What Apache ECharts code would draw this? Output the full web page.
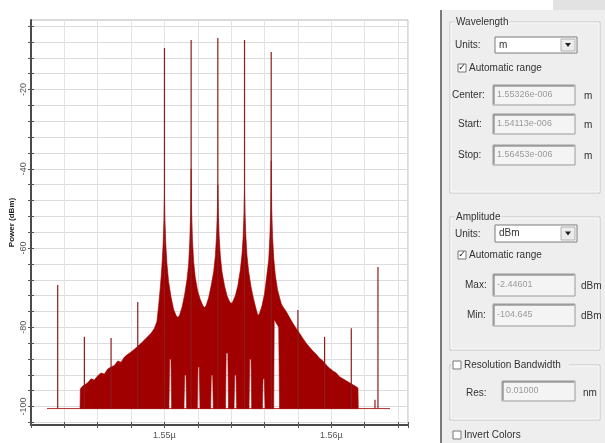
<!DOCTYPE html>
<html><head><meta charset="utf-8">
<script src="https://cdn.jsdelivr.net/npm/echarts@6/dist/echarts.min.js"></script>
<style>html,body{margin:0;padding:0;background:#fff}#c{width:605px;height:443px}</style>
</head><body><div id="c"></div>
<script>
// ---- data (wavelength in nm, power in dBm) ----
const xTickLabels = {1550: '1.55\u00b5', 1560: '1.56\u00b5'};
const yLabelValues = [-100, -80, -60, -40, -20];
const yTickValues = [-104,-100,-96,-92,-88,-84,-80,-76,-72,-68,-64,-60,-56,-52,-48,-44,-40,-36,-32,-28,-24,-20,-16,-12,-8,-4];
const FLOOR = -100.5;
// upper envelope of the dense spectrum
const envWl = [1544.94,1544.96,1545.1,1545.4,1545.6,1545.8,1546.0,1546.2,1546.4,1546.6,1546.8,1547.0,1547.2,1547.4,1547.6,1547.8,1548.0,1548.2,1548.4,1548.6,1548.8,1549.0,1549.2,1549.4,
 1549.55,1549.65,1549.75,1549.85,1549.92,1549.97,1550.0,1550.03,1550.08,1550.15,1550.25,1550.4,1550.55,1550.7,1550.8,
 1550.9,1551.05,1551.2,1551.35,1551.45,1551.52,1551.57,1551.6,1551.63,1551.68,1551.75,1551.85,1552.0,1552.15,1552.3,1552.4,
 1552.5,1552.65,1552.8,1552.95,1553.05,1553.12,1553.17,1553.2,1553.23,1553.28,1553.35,1553.45,1553.6,1553.75,1553.9,1554.0,
 1554.1,1554.25,1554.4,1554.55,1554.65,1554.72,1554.77,1554.8,1554.83,1554.88,1554.95,1555.05,1555.2,1555.35,1555.5,1555.6,
 1555.7,1555.85,1556.0,1556.12,1556.25,1556.32,1556.37,1556.4,1556.43,1556.48,1556.55,1556.65,1556.78,1556.9,1557.0,
 1557.1,1557.3,1557.5,1557.7,1557.9,1558.1,1558.3,1558.5,1558.7,1558.9,1559.1,1559.3,1559.5,1559.7,1559.9,1560.1,1560.3,1560.5,1560.7,1560.9,1561.1,1561.3,1561.5,1561.6,1561.62];
const envTop = [-100.5,-95.5,-94.8,-94,-93,-93.3,-92.2,-91.5,-91.8,-90.5,-90,-89.6,-88.5,-88.8,-87.5,-86.8,-86.2,-85.5,-84.8,-84,-83.2,-82.3,-81.5,-80.2,
 -78.5,-74.5,-70,-64.5,-59,-53,-47,-53,-59,-64,-68.5,-72.5,-75.5,-77,-77.5,
 -77,-75,-72,-68,-64,-58,-51,-40,-51,-58,-63.5,-67.5,-71,-73,-74.5,-75,
 -74.5,-72.5,-69.5,-66,-62,-57,-51,-44,-51,-57,-62,-66,-69.5,-72,-73.5,-74,
 -73.5,-72,-69.5,-65.5,-61.5,-57,-51,-45,-51,-57,-62,-66,-70,-73,-75.5,-77,
 -76.5,-74.5,-71.5,-67.5,-63,-57,-50,-38,-50,-57,-62.5,-67,-70.5,-72.5,-74,
 -74.8,-76,-77.5,-79,-80.3,-81.5,-82.8,-84,-85,-86,-86.8,-87.8,-88.5,-89.5,-90.3,-91,-91.5,-92.5,-93,-93.5,-94,-94.5,-95,-95.3,-100.5];
// lower envelope (white notches between the channels)
const botWl = [1544.94,1550.27,1550.31,1550.39,1550.43,1551.17,1551.21,1551.29,1551.33,1551.97,1552.01,1552.09,1552.13,1552.77,1552.81,1552.89,1552.93,1553.66,1553.7,1553.8,1553.84,1554.17,1554.21,1554.29,1554.33,1555.07,1555.11,1555.19,1555.23,1555.87,1555.91,1555.99,1556.03,1556.55,1556.58,1556.85,1556.9,1561.62];
const botVal = [-100.5,-100.5,-88,-88,-100.5,-100.5,-92,-92,-100.5,-100.5,-90,-90,-100.5,-100.5,-92,-92,-100.5,-100.5,-86.5,-86.5,-100.5,-100.5,-92,-92,-100.5,-100.5,-88,-88,-100.5,-100.5,-93,-93,-100.5,-100.5,-78,-80,-100.5,-100.5];
// narrow spectral lines (carriers and FWM products)
const spikeWl = [1543.6,1545.2,1546.8,1548.4,1550.0,1551.6,1553.2,1554.8,1556.4,1558.0,1559.6,1561.2,1562.62,1562.8];
const spikeTop = [-69.3,-82.4,-82.7,-73.6,-9.5,-7.5,-7.0,-7.5,-10.5,-75.6,-82.4,-80.2,-98.3,-64.8];
const floorWl = [1542.96, 1563.52];
const floorVal = [-100.5, -100.5];

// ---- chart ----
const RED = '#a00000';
const chart = echarts.init(document.getElementById('c'), null, {renderer: 'canvas'});
const FONT = 'Liberation Sans';
const PANEL = '#eeeeee';

function panelGraphics() {
  const g = [];
  const txt = (x, y, s, opt) => g.push({type: 'text', x: x, y: y, style: Object.assign({text: s, font: '10px "Liberation Sans"', fill: '#333', verticalAlign: 'middle'}, opt || {})});
  g.push({type: 'rect', shape: {x: 441, y: 10, width: 164, height: 433}, style: {fill: PANEL}});
  g.push({type: 'rect', shape: {x: 553, y: 0, width: 52, height: 10}, style: {fill: '#e2e2e2'}});
  g.push({type: 'line', shape: {x1: 441, y1: 10, x2: 441, y2: 443}, style: {stroke: '#7a7a7a', lineWidth: 2}});
  const group = (x, y, w, h, label) => {
    g.push({type: 'rect', shape: {x: x, y: y, width: w, height: h}, style: {fill: 'none', stroke: '#c4c4c4', lineWidth: 1}});
    g.push({type: 'rect', shape: {x: x + 1, y: y + 1, width: w - 2, height: h - 2}, style: {fill: 'none', stroke: '#fafafa', lineWidth: 1}});
    if (label) txt(x + 5, y, label, {backgroundColor: PANEL, padding: [0, 1]});
  };
  const box = (x, y, w, h, s) => {
    g.push({type: 'rect', shape: {x: x, y: y, width: w, height: h}, style: {fill: '#f4f4f4', stroke: '#9a9a9a', lineWidth: 1}});
    g.push({type: 'line', shape: {x1: x + 1, y1: y + 1, x2: x + w - 1, y2: y + 1}, style: {stroke: '#6e6e6e', lineWidth: 1}});
    g.push({type: 'line', shape: {x1: x + 1, y1: y + 1, x2: x + 1, y2: y + h - 1}, style: {stroke: '#6e6e6e', lineWidth: 1}});
    if (s) txt(x + 4, y + h / 2, s, {font: '9px "Liberation Sans"', fill: '#9a9a9a'});
  };
  const combo = (x, y, w, h, s) => {
    g.push({type: 'rect', shape: {x: x, y: y, width: w, height: h}, style: {fill: '#ffffff', stroke: '#7a7a7a', lineWidth: 1}});
    g.push({type: 'rect', shape: {x: x + w - 16, y: y + 2, width: 14, height: h - 4}, style: {fill: '#ececec', stroke: '#b0b0b0', lineWidth: 1}});
    g.push({type: 'polygon', shape: {points: [[x + w - 12, y + h / 2 - 2], [x + w - 6, y + h / 2 - 2], [x + w - 9, y + h / 2 + 2]]}, style: {fill: '#222'}});
    txt(x + 4, y + h / 2, s);
  };
  const check = (x, y, checked, label) => {
    g.push({type: 'rect', shape: {x: x, y: y - 4, width: 8, height: 8}, style: {fill: '#ffffff', stroke: '#777', lineWidth: 1}});
    if (checked) g.push({type: 'text', x: x + 4, y: y, style: {text: '\u2713', font: 'bold 9px "DejaVu Sans"', fill: '#222', align: 'center', verticalAlign: 'middle'}});
    txt(x + 11, y, label);
  };
  group(450, 22, 150, 171, 'Wavelength');
  txt(455, 45, 'Units:');
  combo(495, 37, 82, 16, 'm');
  check(458, 68, true, 'Automatic range');
  txt(452, 95, 'Center:');
  box(493, 85, 82, 20, '1.55326e-006');
  txt(584, 96, 'm');
  txt(458, 124, 'Start:');
  box(493, 114, 82, 20, '1.54113e-006');
  txt(584, 125, 'm');
  txt(458, 155, 'Stop:');
  box(493, 145, 82, 20, '1.56453e-006');
  txt(584, 156, 'm');

  group(450, 217, 150, 133, 'Amplitude');
  txt(455, 234, 'Units:');
  combo(495, 225, 82, 17, 'dBm');
  check(458, 255, true, 'Automatic range');
  txt(465, 285, 'Max:');
  box(493, 274, 82, 22, '-2.44601');
  txt(581, 286, 'dBm');
  txt(467, 315, 'Min:');
  box(493, 304, 82, 22, '-104.645');
  txt(581, 316, 'dBm');

  group(450, 365, 150, 55, null);
  g.push({type: 'rect', shape: {x: 451, y: 360, width: 118, height: 10}, style: {fill: PANEL}});
  check(453, 365, false, 'Resolution Bandwidth');
  txt(466, 393, 'Res:');
  box(502, 381, 73, 20, '0.01000');
  txt(583, 393, 'nm');
  check(453, 435, false, 'Invert Colors');
  return g;
}

const option = {
  animation: false,
  backgroundColor: '#ffffff',
  grid: {left: 31, top: 20, width: 377, height: 405, containLabel: false, outerBoundsMode: 'none',
         show: true, borderColor: '#b5b5b5', borderWidth: 1, backgroundColor: 'transparent'},
  xAxis: [{
    type: 'value', min: 1542, max: 1564.6, interval: 2, position: 'bottom',
    axisLine: {show: true, onZero: false, lineStyle: {color: '#4a4a4a', width: 2}},
    axisTick: {show: true, length: 3, lineStyle: {color: '#555'}},
    axisLabel: {fontFamily: FONT, fontSize: 9, color: '#555', margin: 6, formatter: v => xTickLabels[v] || ''},
    splitLine: {show: true, lineStyle: {color: '#e3e3e3', width: 1}}
  }, {
    type: 'value', min: 1542, max: 1564.6, interval: 2, position: 'bottom',
    axisLine: {show: false, onZero: false}, axisTick: {show: true, inside: true, length: 3, lineStyle: {color: '#555'}},
    axisLabel: {show: false}, splitLine: {show: false}
  }],
  yAxis: [{
    type: 'value', min: -104.645, max: -2.446, position: 'left',
    name: 'Power (dBm)', nameLocation: 'middle', nameGap: 15, nameRotate: 90, nameMoveOverlap: false,
    nameTextStyle: {fontFamily: FONT, fontSize: 8, fontWeight: 'bold', color: '#222'},
    axisLine: {show: true, onZero: false, lineStyle: {color: '#4a4a4a', width: 2}},
    axisTick: {show: true, length: 3, customValues: yTickValues, lineStyle: {color: '#555'}},
    axisLabel: {fontFamily: FONT, fontSize: 9, color: '#555', rotate: 90, margin: 3, customValues: yLabelValues},
    splitLine: {show: true, lineStyle: {color: '#dcdcdc', width: 1}}
  }, {
    type: 'value', min: -104.645, max: -2.446, position: 'left', offset: 0,
    axisLine: {show: false, onZero: false}, axisTick: {show: true, inside: true, length: 3, customValues: yTickValues, lineStyle: {color: '#555'}},
    axisLabel: {show: false}, splitLine: {show: false}
  }],
  graphic: panelGraphics(),
  series: [
    {
      type: 'line', data: floorWl.map((w, i) => [w, floorVal[i]]), symbol: 'none',
      lineStyle: {color: '#b03030', width: 1}, z: 2
    },
    {
      type: 'custom', coordinateSystem: 'cartesian2d', z: 3, clip: true,
      data: envWl.map((w, i) => [w, envTop[i]]),
      renderItem: function (params, api) {
        if (params.dataIndex !== 0) return null;
        const pts = [];
        for (let i = 0; i < envWl.length; i++) pts.push(api.coord([envWl[i], envTop[i]]));
        for (let i = botWl.length - 1; i >= 0; i--) pts.push(api.coord([botWl[i], botVal[i]]));
        return {type: 'polygon', shape: {points: pts}, style: {fill: RED, stroke: RED, lineWidth: 0.6}};
      }
    },
    {
      type: 'custom', coordinateSystem: 'cartesian2d', z: 4, clip: true,
      data: spikeWl.map((w, i) => [w, spikeTop[i]]),
      renderItem: function (params, api) {
        const p0 = api.coord([api.value(0), FLOOR]);
        const p1 = api.coord([api.value(0), api.value(1)]);
        return {type: 'line', shape: {x1: p0[0], y1: p0[1], x2: p1[0], y2: p1[1]}, style: {stroke: '#8e1c1c', lineWidth: 1.2}};
      }
    }
  ]
};
chart.setOption(option);
</script></body></html>
